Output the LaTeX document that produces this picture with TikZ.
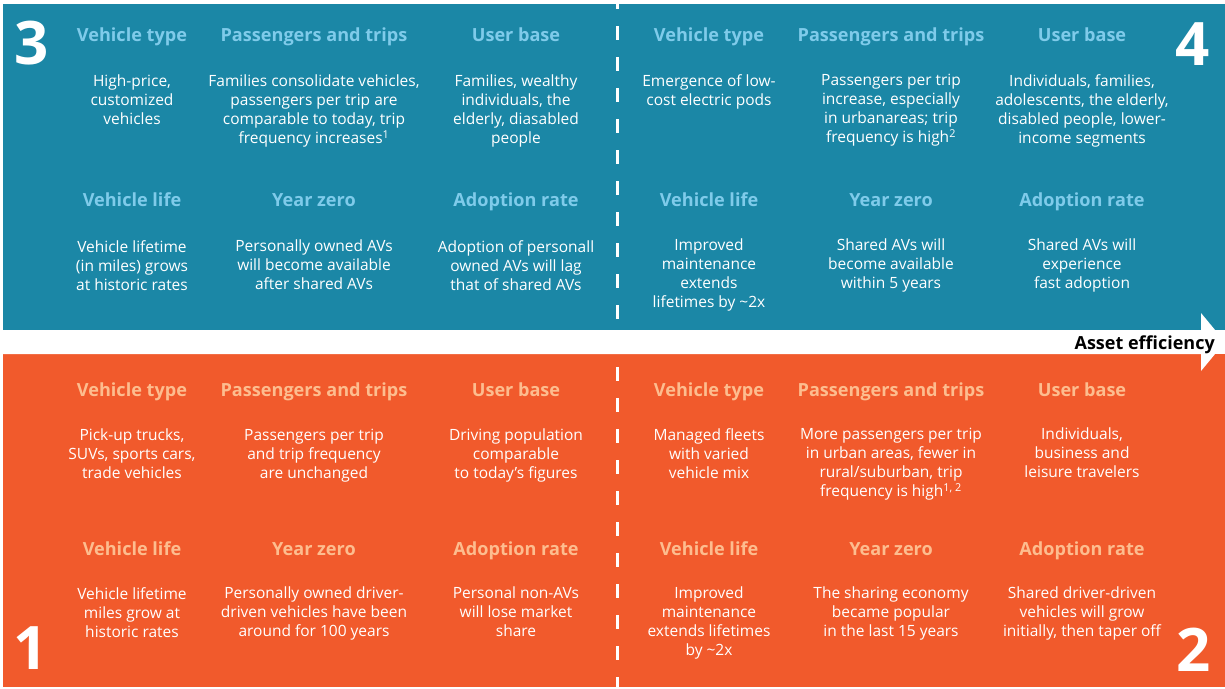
\documentclass[tikz,border=0pt]{standalone}
\usepackage{fontspec}
\setmainfont{Open Sans}
\usepackage{xcolor}
\usepackage{tikz}
\definecolor{tealpanel}{HTML}{1B87A6}
\definecolor{orangepanel}{HTML}{F15A2C}
\definecolor{skyhead}{HTML}{7FCBEA}
\definecolor{peachhead}{HTML}{FDBD8F}

\begin{document}
\begin{tikzpicture}[x=1pt, y=-1pt,
      head/.style={font=\fontsize{18.1}{22}\selectfont\bfseries, anchor=base, inner sep=0pt},
      headA/.style={head, text=skyhead},
      headB/.style={head, text=peachhead},
      body/.style={font=\fontsize{15.5}{19}\selectfont, text=white, align=center,
                   anchor=north, inner sep=0pt},
      quad/.style={font=\fontsize{60}{60}\selectfont\bfseries, text=white, inner sep=0pt}]
    \useasboundingbox (0,0) rectangle (1225,688);
    % the two bands and the divider
    \fill[tealpanel] (3,4) rectangle (1225,330);
    \fill[orangepanel] (3,354) rectangle (1225,687);
    \fill[white] (0,330) -- (1201,330) -- (1201,313) -- (1225,342)
                 -- (1201,371) -- (1201,354) -- (0,354) -- cycle;
    \draw[white, line width=3pt, dash pattern=on 14pt off 17pt] (617,-5) -- (617,688);
    \node[font=\fontsize{18}{22}\selectfont\bfseries, anchor=base east, inner sep=0pt]
      (axis) at (1215,349) {Asset efficiency};

    % quadrant numbers
    \node[quad] (n3) at (32,43) {3};
    \node[quad] (n4) at (1193,44) {4};
    \node[quad] (n1) at (31,648) {1};
    \node[quad] (n2) at (1194,650) {2};

    % quadrant 3
    \node[headA] (q3type) at (132,41) {Vehicle type};
    \node[headA] (q3trips) at (314,41) {Passengers and trips};
    \node[headA] (q3users) at (516,41) {User base};
    \node[body] at (132,75) {High-price,\\customized\\vehicles};
    \node[body] at (314,75) {Families consolidate vehicles,\\passengers per trip are\\
                             comparable to today, trip\\frequency increases\textsuperscript{1}};
    \node[body] at (516,75) {Families, wealthy\\individuals, the\\elderly, diasabled\\people};
    \node[headA] (q3life) at (132,206) {Vehicle life};
    \node[headA] (q3year) at (314,206) {Year zero};
    \node[headA] (q3rate) at (516,206) {Adoption rate};
    \node[body] at (132,240) {Vehicle lifetime\\(in miles) grows\\at historic rates};
    \node[body] at (314,240) {Personally owned AVs\\will become available\\after shared AVs};
    \node[body] at (516,240) {Adoption of personall\\owned AVs will lag\\that of shared AVs};

    % quadrant 4
    \node[headA] (q4type) at (709,41) {Vehicle type};
    \node[headA] (q4trips) at (891,41) {Passengers and trips};
    \node[headA] (q4users) at (1082,41) {User base};
    \node[body] at (709,74) {Emergence of low-\\cost electric pods};
    \node[body] at (891,74) {Passengers per trip\\increase, especially\\in urbanareas; trip\\
                             frequency is high\textsuperscript{2}};
    \node[body] at (1082,74) {Individuals, families,\\adolescents, the elderly,\\
                              disabled people, lower-\\income segments};
    \node[headA] (q4life) at (709,206) {Vehicle life};
    \node[headA] (q4year) at (891,206) {Year zero};
    \node[headA] (q4rate) at (1082,206) {Adoption rate};
    \node[body] at (709,239) {Improved\\maintenance\\extends\\lifetimes by \textasciitilde2x};
    \node[body] at (891,239) {Shared AVs will\\become available\\within 5 years};
    \node[body] at (1082,239) {Shared AVs will\\experience\\fast adoption};

    % quadrant 1
    \node[headB] (q1type) at (132,396) {Vehicle type};
    \node[headB] (q1trips) at (314,396) {Passengers and trips};
    \node[headB] (q1users) at (516,396) {User base};
    \node[body] at (132,429) {Pick-up trucks,\\SUVs, sports cars,\\trade vehicles};
    \node[body] at (314,429) {Passengers per trip\\and trip frequency\\are unchanged};
    \node[body] at (516,429) {Driving population\\comparable\\to today’s figures};
    \node[headB] (q1life) at (132,555) {Vehicle life};
    \node[headB] (q1year) at (314,555) {Year zero};
    \node[headB] (q1rate) at (516,555) {Adoption rate};
    \node[body] at (132,587) {Vehicle lifetime\\miles grow at\\historic rates};
    \node[body] at (314,587) {Personally owned driver-\\driven vehicles have been\\around for 100 years};
    \node[body] at (516,587) {Personal non-AVs\\will lose market\\share};

    % quadrant 2
    \node[headB] (q2type) at (709,396) {Vehicle type};
    \node[headB] (q2trips) at (891,396) {Passengers and trips};
    \node[headB] (q2users) at (1082,396) {User base};
    \node[body] at (709,428) {Managed fleets\\with varied\\vehicle mix};
    \node[body] at (891,428) {More passengers per trip\\in urban areas, fewer in\\
                             rural/suburban, trip\\frequency is high\textsuperscript{1, 2}};
    \node[body] at (1082,428) {Individuals,\\business and\\leisure travelers};
    \node[headB] (q2life) at (709,555) {Vehicle life};
    \node[headB] (q2year) at (891,555) {Year zero};
    \node[headB] (q2rate) at (1082,555) {Adoption rate};
    \node[body] at (709,587) {Improved\\maintenance\\extends lifetimes\\by \textasciitilde2x};
    \node[body] at (891,587) {The sharing economy\\became popular\\in the last 15 years};
    \node[body] at (1082,587) {Shared driver-driven\\vehicles will grow\\initially, then taper off};
  \end{tikzpicture}
\end{document}
